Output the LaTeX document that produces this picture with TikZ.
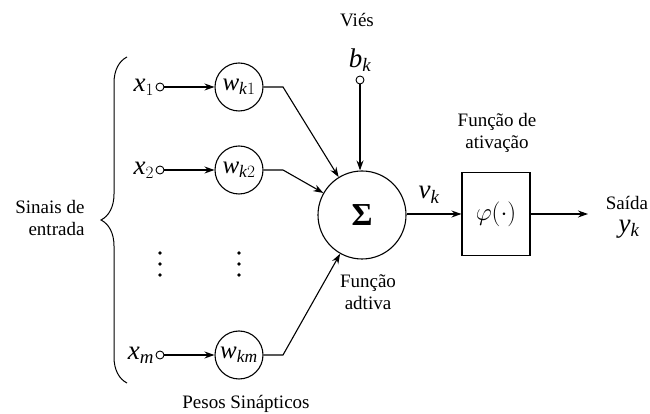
\documentclass[tikz,border=0pt]{standalone}
\usepackage{fontspec}
\setmainfont{Liberation Serif}
\usetikzlibrary{arrows.meta,decorations.pathreplacing}
% italic letters in the serif text face
\newcommand{\vr}[1]{\mathit{#1}}
\begin{document}
\begin{tikzpicture}[x=1pt,y=1pt,line width=1.1pt,
  tip/.style={-{Stealth[length=10pt,width=7pt]}},
  weight/.style={circle,draw,minimum size=48pt,inner sep=0pt,font=\fontsize{25}{27}\selectfont},
  port/.style={circle,draw,fill=white,minimum size=8pt,inner sep=0pt,line width=0.9pt},
  lbl/.style={font=\fontsize{19}{22}\selectfont,align=center,inner sep=0pt},
  sym/.style={font=\fontsize{27}{29}\selectfont,inner sep=1pt}]
\useasboundingbox (0,0) rectangle (650,414);

% inputs and synaptic weights
\node[port] (p1) at (160,327) {};
\node[port] (p2) at (160,244) {};
\node[port] (pm) at (160,59) {};
\node[sym,anchor=east] (x1) at (p1.west) {$\vr{x}_1$};
\node[sym,anchor=east] (x2) at (p2.west) {$\vr{x}_2$};
\node[sym,anchor=east] (xm) at (pm.west) {$\vr{x}_{\vr{m}}$};
\node[weight] (w1) at (239,327) {$\vr{w}_{\vr{k}1}$};
\node[weight] (w2) at (239,244) {$\vr{w}_{\vr{k}2}$};
\node[weight] (wm) at (239,59) {$\vr{w}_{\vr{km}}$};
\draw[tip] (p1) -- (w1);
\draw[tip] (p2) -- (w2);
\draw[tip] (pm) -- (wm);

% vertical ellipses
\foreach \cx in {160,239}
  \foreach \cy in {161,150,139}
    \fill (\cx,\cy) circle (1.8pt);

% summing junction
\node[circle,draw,minimum size=88pt,inner sep=0pt,font=\fontsize{32}{34}\selectfont\bfseries] (sum) at (362,199) {Σ};
\coordinate (b1) at (283,327);
\coordinate (b2) at (283,244);
\coordinate (bm) at (283,59);
\draw[tip] (w1) -- (b1) -- (sum);
\draw[tip] (w2) -- (b2) -- (sum);
\draw[tip] (wm) -- (bm) -- (sum);

% bias
\node[port] (pb) at (360,334) {};
\node[sym,anchor=south] (bk) at ([yshift=2pt]pb.north) {$\vr{b}_{\vr{k}}$};
\node[lbl] (vies) at (357,394) {Viés};
\draw[tip] (pb) -- (pb |- sum.north);

% activation function
\node[draw,minimum width=68pt,minimum height=83pt,inner sep=0pt,font=\fontsize{27}{29}\selectfont] (phi) at (496,200) {$\varphi(\cdot)$};
\draw[tip] (sum.east |- phi.west) -- (phi.west);
\node[sym] (vk) at (429,219) {$\vr{v}_{\vr{k}}$};
\node[lbl] (fa) at (497,281) {Função de\\ativação};

% output
\coordinate (out) at (588,200);
\draw[tip] (phi.east) -- (out);
\node[lbl] (said) at (627,211) {Saída};
\node[sym] (yk) at (629,185) {$\vr{y}_{\vr{k}}$};

% captions
\node[lbl] (fad) at (368,122) {Função\\adtiva};
\node[lbl] (pesos) at (246,10) {Pesos Sinápticos};
\node[lbl,align=right,anchor=east] (sin) at (85,196) {Sinais de\\entrada};

% input brace
\draw[line width=1pt,decorate,decoration={brace,amplitude=26pt}] (127,31) -- (127,357);
\end{tikzpicture}
\end{document}
